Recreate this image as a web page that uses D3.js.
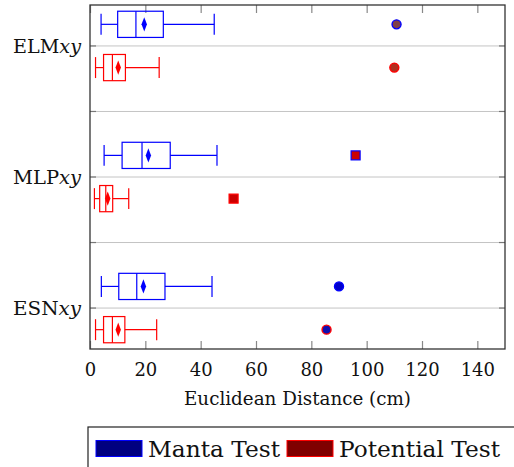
<!DOCTYPE html>
<html>
<head>
<meta charset="utf-8">
<script src="https://cdn.jsdelivr.net/npm/d3@7"></script>
<style>
  body { margin: 0; background: #fff; }
  svg text { fill: #111; }
</style>
</head>
<body>
<svg></svg>
<script>
const dims = { width: 514, height: 467 }
const svg = d3.select('svg')
  .attr('width', dims.width)
  .attr('height', dims.height)

const serif = 'DejaVu Serif'

// data
const methods = ['ELM', 'MLP', 'ESN']
const methodPos = [5, 3, 1]
const outlierShape = ['circle', 'square', 'circle']

const mantaLower = [4.0, 5.1, 4.1]
const mantaQ1 = [10.0, 11.6, 10.4]
const mantaMedian = [16.6, 18.8, 16.9]
const mantaQ3 = [26.5, 29.0, 27.1]
const mantaUpper = [44.9, 45.9, 44.1]
const mantaMean = [19.6, 21.1, 19.3]
const mantaOutlier = [110.8, 96.0, 90.0]

const potentialLower = [2.0, 1.6, 2.0]
const potentialQ1 = [4.9, 3.5, 4.9]
const potentialMedian = [8.1, 5.7, 8.1]
const potentialQ3 = [12.8, 8.2, 12.6]
const potentialUpper = [25.0, 14.0, 24.1]
const potentialMean = [10.2, 6.4, 10.2]
const potentialOutlier = [110.0, 51.9, 85.5]

const xTicks = [0, 20, 40, 60, 80, 100, 120, 140]
const gridPos = [1, 2, 3, 4, 5]

const series = [
  { name: 'Manta Test', color: '#0000ff', legendFill: '#000080', offset: 0.33,
    outFill: ['#80404a', '#cc0000', '#0000cc'],
    lower: mantaLower, q1: mantaQ1, median: mantaMedian, q3: mantaQ3,
    upper: mantaUpper, mean: mantaMean, outlier: mantaOutlier },
  { name: 'Potential Test', color: '#ff0000', legendFill: '#800000', offset: -0.33,
    outFill: ['#b03020', '#cc0000', '#1010b0'],
    lower: potentialLower, q1: potentialQ1, median: potentialMedian, q3: potentialQ3,
    upper: potentialUpper, mean: potentialMean, outlier: potentialOutlier }
]

const plot = { left: 90, right: 505, top: 5, bottom: 349 }

const x = d3.scaleLinear().domain([0, 150]).range([plot.left, plot.right])
const y = d3.scaleLinear().domain([0.375, 5.625]).range([plot.bottom, plot.top])

const boxHalf = 0.2
const capHalf = 0.16

// grid
const gridG = svg.append('g')
gridG.selectAll('line').data(gridPos)
  .enter().append('line')
    .attr('x1', plot.left).attr('x2', plot.right)
    .attr('y1', d => y(d)).attr('y2', d => y(d))
    .attr('stroke', '#c4c4c4').attr('stroke-width', 1)

// y ticks left & right
gridG.selectAll('.ytl').data(gridPos)
  .enter().append('line')
    .attr('x1', plot.left).attr('x2', plot.left + 6)
    .attr('y1', d => y(d)).attr('y2', d => y(d))
    .attr('stroke', '#777').attr('stroke-width', 1.2)
gridG.selectAll('.ytr').data(gridPos)
  .enter().append('line')
    .attr('x1', plot.right - 6).attr('x2', plot.right)
    .attr('y1', d => y(d)).attr('y2', d => y(d))
    .attr('stroke', '#777').attr('stroke-width', 1.2)

// x axis (bottom, ticks inward) and top ticks
const xAxis = svg.append('g')
  .attr('transform', `translate(0,${plot.bottom})`)
  .call(d3.axisBottom(x).tickValues(xTicks).tickSize(-8).tickPadding(14))
xAxis.attr('font-family', serif).attr('font-size', 18)
xAxis.select('.domain').remove()
xAxis.selectAll('.tick line').attr('stroke', '#888').attr('stroke-width', 1.2)
xAxis.selectAll('.tick text').attr('fill', '#111')

const topAxis = svg.append('g')
  .attr('transform', `translate(0,${plot.top})`)
  .call(d3.axisTop(x).tickValues(xTicks).tickSize(-8).tickFormat(''))
topAxis.select('.domain').remove()
topAxis.selectAll('.tick line').attr('stroke', '#888').attr('stroke-width', 1.2)

// frame
svg.append('rect')
  .attr('x', plot.left).attr('y', plot.top)
  .attr('width', plot.right - plot.left).attr('height', plot.bottom - plot.top)
  .attr('fill', 'none').attr('stroke', '#333').attr('stroke-width', 1.3)

// y labels
const yLab = svg.append('g').selectAll('text').data(methods)
  .enter().append('text')
    .attr('x', 81)
    .attr('y', (d, i) => y(methodPos[i]) + 7)
    .attr('text-anchor', 'end')
    .attr('font-family', serif)
    .attr('font-size', 19)
    .attr('textLength', 68)
    .attr('lengthAdjust', 'spacingAndGlyphs')
yLab.append('tspan').text(d => d)
yLab.append('tspan').attr('font-style', 'italic').text('xy')

// boxes
const boxG = svg.append('g')
series.forEach(s => {
  methods.forEach((m, i) => {
    const cy = methodPos[i] + s.offset
    const g = boxG.append('g').attr('stroke', s.color).attr('stroke-width', 1.2).attr('fill', 'none')
    // whiskers
    g.append('line')
      .attr('x1', x(s.lower[i])).attr('x2', x(s.q1[i]))
      .attr('y1', y(cy)).attr('y2', y(cy))
    g.append('line')
      .attr('x1', x(s.q3[i])).attr('x2', x(s.upper[i]))
      .attr('y1', y(cy)).attr('y2', y(cy))
    g.append('line')
      .attr('x1', x(s.lower[i])).attr('x2', x(s.lower[i]))
      .attr('y1', y(cy + capHalf)).attr('y2', y(cy - capHalf))
    g.append('line')
      .attr('x1', x(s.upper[i])).attr('x2', x(s.upper[i]))
      .attr('y1', y(cy + capHalf)).attr('y2', y(cy - capHalf))
    // box
    g.append('rect')
      .attr('x', x(s.q1[i])).attr('y', y(cy + boxHalf))
      .attr('width', x(s.q3[i]) - x(s.q1[i]))
      .attr('height', y(cy - boxHalf) - y(cy + boxHalf))
    g.append('line')
      .attr('x1', x(s.median[i])).attr('x2', x(s.median[i]))
      .attr('y1', y(cy + boxHalf)).attr('y2', y(cy - boxHalf))
    // mean diamond
    g.append('path')
      .attr('d', d3.symbol(d3.symbolDiamond, 40)())
      .attr('transform', `translate(${x(s.mean[i])},${y(cy)}) scale(0.8,1.2)`)
      .attr('fill', s.color).attr('stroke', 'none')
    // outlier
    const ox = x(s.outlier[i]), oy = y(cy)
    if (outlierShape[i] === 'square') {
      g.append('rect')
        .attr('x', ox - 4.5).attr('y', oy - 4.5).attr('width', 9).attr('height', 9)
        .attr('fill', s.outFill[i]).attr('stroke-width', 1.2)
    } else {
      g.append('circle')
        .attr('cx', ox).attr('cy', oy).attr('r', 4.5)
        .attr('fill', s.outFill[i]).attr('stroke-width', 1.4)
    }
  })
})

// x axis title
svg.append('text')
  .attr('x', (plot.left + plot.right) / 2)
  .attr('y', 405)
  .attr('text-anchor', 'middle')
  .attr('font-family', serif)
  .attr('font-size', 18)
  .attr('textLength', 227)
  .attr('lengthAdjust', 'spacingAndGlyphs')
  .text('Euclidean Distance (cm)')

// legend
const legend = svg.append('g')
legend.append('rect')
  .attr('x', 88).attr('y', 427).attr('width', 440).attr('height', 60)
  .attr('fill', 'none').attr('stroke', '#222').attr('stroke-width', 1.2)
const legendX = [96, 287]
const legendTextW = [132, 161]
series.forEach((s, i) => {
  legend.append('rect')
    .attr('x', legendX[i]).attr('y', 440.5).attr('width', 46).attr('height', 16)
    .attr('fill', s.legendFill).attr('stroke', s.color).attr('stroke-width', 1)
  legend.append('text')
    .attr('x', legendX[i] + 52).attr('y', 456.5)
    .attr('font-family', serif)
    .attr('font-size', 23)
    .attr('textLength', legendTextW[i])
    .attr('lengthAdjust', 'spacingAndGlyphs')
    .text(s.name)
})
</script>
</body>
</html>
